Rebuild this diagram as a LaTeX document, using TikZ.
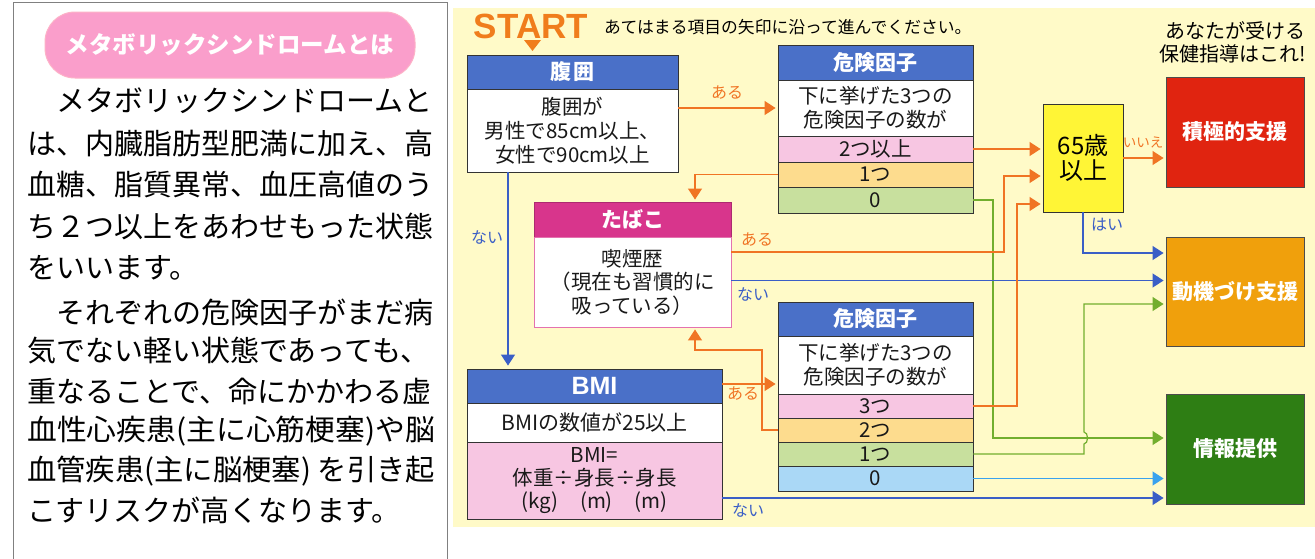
\documentclass[tikz,border=0pt]{standalone}
\usepackage{fontspec}
\setmainfont{Noto Sans CJK JP}
\newfontfamily\latfont{Liberation Sans}
\usetikzlibrary{arrows.meta,calc}
\newcommand\myfs[2]{\fontsize{#1pt}{#2pt}\selectfont}
\definecolor{bgY}{HTML}{FFFAC8}
\definecolor{hdrB}{HTML}{4A70C8}
\definecolor{rowP}{HTML}{F7C6E2}
\definecolor{rowO}{HTML}{FDDC8E}
\definecolor{rowG}{HTML}{C8E09E}
\definecolor{rowL}{HTML}{AAD8F6}
\definecolor{tabM}{HTML}{D8358C}
\definecolor{boxY}{HTML}{FFF536}
\definecolor{boxR}{HTML}{E02410}
\definecolor{boxO}{HTML}{F0A00C}
\definecolor{boxG}{HTML}{2E7E14}
\definecolor{arO}{HTML}{F07424}
\definecolor{arB}{HTML}{3A5EC6}
\definecolor{arG}{HTML}{72AE2E}
\definecolor{arL}{HTML}{3AA2EE}
\definecolor{pillP}{HTML}{FA9ECB}
\definecolor{startO}{HTML}{F07D1C}
\tikzset{
  cell/.style={draw=black!80, line width=0.9pt, inner sep=0pt, minimum width=195pt,
    align=center, text=black!90, font=\myfs{20.5}{24}},
  hdr/.style={cell, fill=hdrB, text=white, font=\myfs{21}{24}\bfseries},
  res/.style={draw=black!70, line width=0.9pt, minimum width=138pt, minimum height=110pt,
    text=white, inner sep=0pt, font=\myfs{21}{24}\bfseries},
  conn/.style={line width=1.2pt, -{Triangle[length=11pt,width=14pt]}, shorten >=2pt},
  oarr/.style={conn, draw=arO},
  barr/.style={conn, draw=arB},
  garr/.style={conn, draw=arG},
  larr/.style={conn, draw=arL},
  lab/.style={font=\myfs{16}{18}, inner sep=0pt},
  para/.style={anchor=west, font=\myfs{29}{32}, inner sep=0pt, text=black}
}
\begin{document}
\begin{tikzpicture}[x=1pt,y=-1pt]
\useasboundingbox (0,0) rectangle (1315,558);
\fill[white] (0,0) rectangle (1315,558);
% left panel
\draw[black!50, line width=1pt] (13,560) -- (13,2) -- (447,2) -- (447,560);
\node[draw=pillP!80!red!60, line width=1pt, fill=pillP, rounded corners=30pt,
  minimum width=370pt, minimum height=66pt, text=white, font=\myfs{23.5}{26}\bfseries] (pill) at (230,45) {メタボリックシンドロームとは};
\node[para] (p1) at (27,101) {　メタボリックシンドロームと};
\node[para] (p2) at (27,143) {は、内臓脂肪型肥満に加え、高};
\node[para] (p3) at (27,185) {血糖、脂質異常、血圧高値のう};
\node[para] (p4) at (27,226) {ち２つ以上をあわせもった状態};
\node[para] (p5) at (27,268) {をいいます。};
\node[para] (p6) at (27,312) {　それぞれの危険因子がまだ病};
\node[para] (p7) at (27,351) {気でない軽い状態であっても、};
\node[para] (p8) at (27,391) {重なることで、命にかかわる虚};
\node[para] (p9) at (27,431) {\resizebox{408pt}{\height}{血性心疾患(主に心筋梗塞)や脳}};
\node[para] (p10) at (27,471) {\resizebox{408pt}{\height}{血管疾患(主に脳梗塞) を引き起}};
\node[para] (p11) at (27,510) {こすリスクが高くなります。};
% right panel
\fill[bgY] (453,8) rectangle (1315,527);
\node[font=\latfont\bfseries\myfs{35}{36}, text=startO, inner sep=0pt] (start) at (531,26) {START};
\fill[startO] (524,40) -- (541,40) -- (532.5,51) -- cycle;
\node[anchor=west, font=\myfs{16.8}{18}, inner sep=0pt] (instr) at (604,27) {あてはまる項目の矢印に沿って進んでください。};
\node[anchor=east, align=right, font=\myfs{20}{23}, inner sep=0pt] (head) at (1306,42) {あなたが受ける\\保健指導はこれ!};
% 腹囲
\node[hdr, minimum width=211pt, minimum height=34pt] (fh) at (572.5,72) {腹\hspace{3pt}囲};
\node[cell, fill=white, minimum width=211pt, minimum height=83pt] (fb) at (572.5,130.5) {腹囲が\\男性で85cm以上、\\女性で90cm以上};
% upper risk
\node[hdr, minimum height=35pt] (uRh) at (875.5,62.5) {危険因子};
\node[cell, fill=white, minimum height=56pt] (uRb) at (875.5,108) {下に挙げた3つの\\危険因子の数が};
\node[cell, fill=rowP, minimum height=26pt] (uR2) at (875.5,149) {2つ以上};
\node[cell, fill=rowO, minimum height=25pt] (uR1) at (875.5,174.5) {1つ};
\node[cell, fill=rowG, minimum height=26pt] (uR0) at (875.5,200) {0};
% たばこ
\node[hdr, fill=tabM, draw=tabM!80!black, minimum width=197pt, minimum height=35pt] (th) at (632.5,219.5) {たばこ};
\node[cell, draw=tabM!70, fill=white, minimum width=197pt, minimum height=90pt, font=\myfs{20.5}{23.5}] (tb) at (632.5,282) {喫煙歴\\（現在も習慣的に\\吸っている）};
% BMI
\node[hdr, minimum width=255pt, minimum height=34pt, font=\latfont\bfseries\myfs{25}{26}] (bh) at (594.5,386) {BMI};
\node[cell, fill=white, minimum width=255pt, minimum height=39pt, font=\myfs{21}{24}] (bb) at (594.5,422.5) {BMIの数値が25以上};
\node[cell, fill=rowP, minimum width=255pt, minimum height=77pt, font=\myfs{20.5}{23}] (bp) at (594.5,480.5) {BMI=\\体重÷身長÷身長\\(kg)\hspace{22pt}(m)\hspace{22pt}(m)};
% lower risk
\node[hdr, minimum height=34pt] (lRh) at (875.5,319) {危険因子};
\node[cell, fill=white, minimum height=58pt] (lRb) at (875.5,365) {下に挙げた3つの\\危険因子の数が};
\node[cell, fill=rowP, minimum height=24pt] (lR3) at (875.5,406) {3つ};
\node[cell, fill=rowO, minimum height=24pt] (lR2) at (875.5,430) {2つ};
\node[cell, fill=rowG, minimum height=24pt] (lR1) at (875.5,454) {1つ};
\node[cell, fill=rowL, minimum height=25pt] (lR0) at (875.5,478.5) {0};
% 65
\node[draw=black!80, line width=0.9pt, fill=boxY, minimum width=80pt, minimum height=108pt,
  inner sep=0pt, align=center, font=\myfs{24}{25}] (a65) at (1083,158) {65歳\\以上};
% results
\node[res, fill=boxR] (red) at (1235,132) {積極的支援};
\node[res, fill=boxO, minimum height=109pt] (moti) at (1235,291.5) {動機づけ支援};
\node[res, fill=boxG] (info) at (1235,449) {情報提供};
% bend points
\coordinate (gA) at (993,438);
\coordinate (oA) at (1004,252);
\coordinate (oB) at (762,350);
\coordinate (oC) at (1017,204);
\coordinate (gB) at (1084,304);
% connectors
\draw[oarr] (fb.east |- uRb.west) -- (uRb.west);
\draw[oarr] (uR2.east) -- (uR2.east -| a65.west);
\draw[oarr] (uR1.west) -| ([xshift=62.5pt]th.north);
\draw[garr] (uR0.east) -| (gA) -- (gA -| info.west);
\draw[oarr] (tb.east |- oA) -- (oA) |- ([yshift=-18pt]a65.west);
\draw[barr] ([yshift=1.5pt]tb.east) -- ([yshift=1.5pt]tb.east -| moti.west);
\draw[barr, shorten >=3pt] ([xshift=-64.5pt]fb.south) -- ([xshift=-64.5pt]fb.south |- bh.north);
\draw[barr] (a65.south) |- ([yshift=38.5pt]moti.west);
\draw[oarr] (a65.east) -- (a65.east -| red.west);
\draw[oarr] ([yshift=2pt]bh.east) -- ([yshift=2pt]bh.east -| lRb.west);
\draw[oarr] (lR2.west) -| (oB) -| ([xshift=62.5pt]tb.south);
\draw[oarr] (lR3.east) -| (oC) -- (oC -| a65.west);
\draw[garr] (lR1.east) -- (lR1.east -| gB) -- ($(gB |- gA)+(0,6)$) to[out=0,in=0] ($(gB |- gA)+(0,-6)$) -- (gB) -- (gB -| moti.west);
\draw[larr] (lR0.east) -- (lR0.east -| info.west);
\draw[barr] ([yshift=-17.5pt]bp.east) -- ([yshift=-17.5pt]bp.east -| info.west);
% labels
\node[lab, text=arO] (l1) at (727,93) {ある};
\node[lab, text=arB] (l2) at (487,237) {ない};
\node[lab, text=arO] (l3) at (757,240) {ある};
\node[lab, text=arB] (l4) at (753,294) {ない};
\node[lab, text=arB] (l5) at (1107,225) {はい};
\node[lab, text=arO, font=\myfs{13.5}{15}] (l6) at (1143,142) {いいえ};
\node[lab, text=arO] (l7) at (743,394) {ある};
\node[lab, text=arB] (l8) at (748,510) {ない};
\end{tikzpicture}
\end{document}
